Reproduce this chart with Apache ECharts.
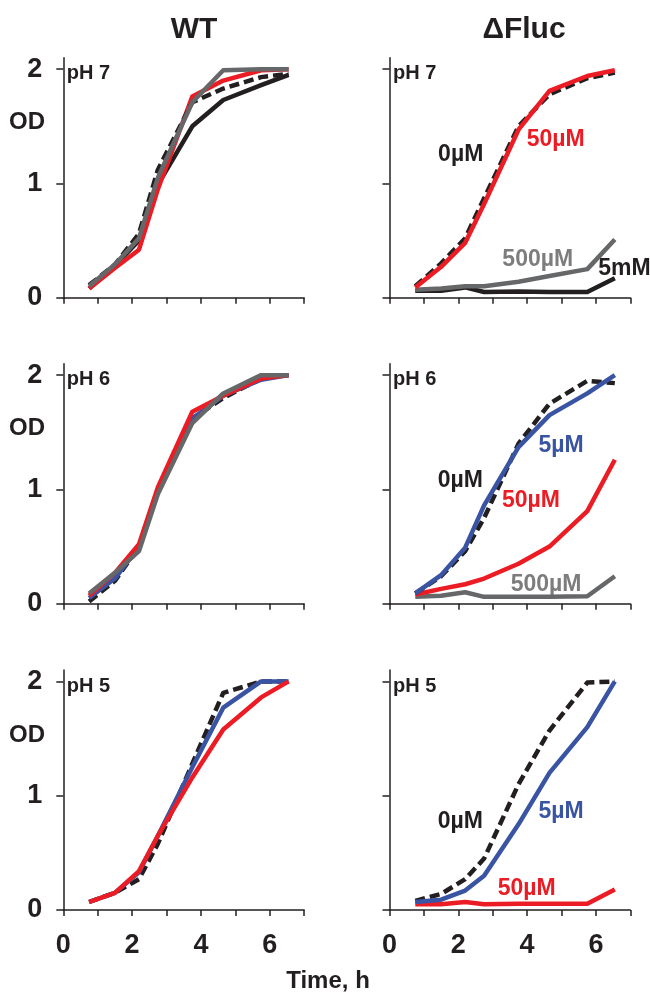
<!DOCTYPE html>
<html>
<head>
<meta charset="utf-8">
<script src="https://cdn.jsdelivr.net/npm/echarts@6/dist/echarts.min.js"></script>
<style>
  html, body { margin: 0; padding: 0; background: #fff; }
  #chart { width: 650px; height: 996px; }
</style>
</head>
<body>
<div id="chart"></div>
<script>
// sampling times (h)
const times = [0.75, 1.5, 2.2, 2.75, 3.75, 4.65, 5.75, 6.55];

// WT, pH 7
const wt7Zero = [0.11, 0.29, 0.56, 1.12, 1.71, 1.83, 1.93, 1.96];
const wt7Black = [0.08, 0.28, 0.5, 0.99, 1.5, 1.73, 1.86, 1.95];
const wt7Red = [0.08, 0.26, 0.42, 0.95, 1.76, 1.9, 1.99, 2.0];
const wt7Gray = [0.1, 0.29, 0.52, 1.05, 1.71, 1.99, 2.0, 2.0];
// dFluc, pH 7
const fl7Zero = [0.1, 0.3, 0.52, 0.87, 1.5, 1.78, 1.92, 1.97];
const fl7Fifty = [0.09, 0.27, 0.48, 0.82, 1.47, 1.81, 1.94, 1.99];
const fl7FiveHundred = [0.07, 0.08, 0.1, 0.1, 0.14, 0.19, 0.25, 0.51];
const fl7FivemM = [0.06, 0.06, 0.09, 0.05, 0.055, 0.05, 0.05, 0.17];
// WT, pH 6
const wt6Zero = [0.02, 0.2, 0.5, 1.0, 1.62, 1.8, 1.97, 2.0];
const wt6Five = [0.05, 0.22, 0.5, 0.98, 1.62, 1.82, 1.96, 2.0];
const wt6Fifty = [0.07, 0.27, 0.52, 1.02, 1.68, 1.82, 1.97, 2.0];
const wt6FiveHundred = [0.09, 0.27, 0.46, 0.96, 1.58, 1.84, 2.0, 2.0];
// dFluc, pH 6
const fl6Zero = [0.09, 0.24, 0.46, 0.75, 1.4, 1.75, 1.95, 1.93];
const fl6Five = [0.09, 0.25, 0.49, 0.86, 1.37, 1.65, 1.84, 2.0];
const fl6Fifty = [0.08, 0.13, 0.17, 0.22, 0.35, 0.5, 0.81, 1.26];
const fl6FiveHundred = [0.06, 0.07, 0.1, 0.06, 0.06, 0.06, 0.065, 0.24];
// WT, pH 5
const wt5Zero = [0.07, 0.15, 0.27, 0.58, 1.28, 1.9, 2.0, 2.0];
const wt5Five = [0.07, 0.15, 0.33, 0.65, 1.25, 1.77, 2.0, 2.0];
const wt5Fifty = [0.07, 0.15, 0.34, 0.65, 1.16, 1.58, 1.86, 2.0];
// dFluc, pH 5
const fl5Zero = [0.08, 0.14, 0.27, 0.45, 1.1, 1.57, 1.99, 2.0];
const fl5Five = [0.07, 0.09, 0.17, 0.3, 0.75, 1.2, 1.6, 2.0];
const fl5Fifty = [0.05, 0.05, 0.07, 0.05, 0.055, 0.055, 0.055, 0.18];

const yTicks = [0, 1, 2];
const xTicks = [0, 1, 2, 3, 4, 5, 6, 7];
const xTickLabels = [0, 2, 4, 6];
const panelLabels = ["pH 7", "pH 7", "pH 6", "pH 6", "pH 5", "pH 5"];

const colors = {
  black: "#231f20",
  red: "#ec1c24",
  blue: "#3a54a4",
  gray: "#666768",
  grayText: "#7d7d7d",
};
const font = "Liberation Sans, Arial, sans-serif";

// annotations inside the dFluc panels: [gridIndex, text, t, od, color, align]
const annotations = [
  [1, "0µM", 2.07, 1.25, colors.black, "center"],
  [1, "50µM", 4.83, 1.38, colors.red, "center"],
  [1, "500µM", 4.31, 0.33, colors.grayText, "center"],
  [1, "5mM", 6.07, 0.25, colors.black, "left"],
  [3, "5µM", 4.99, 1.38, colors.blue, "center"],
  [3, "0µM", 2.06, 1.08, colors.black, "center"],
  [3, "50µM", 4.11, 0.9, colors.red, "center"],
  [3, "500µM", 4.55, 0.17, colors.grayText, "center"],
  [5, "0µM", 2.06, 0.77, colors.black, "center"],
  [5, "5µM", 4.99, 0.86, colors.blue, "center"],
  [5, "50µM", 3.99, 0.19, colors.red, "center"],
];

const zip = (ys) => times.map((t, i) => [t, ys[i]]);

const line = (grid, ys, color, dashed) => ({
  type: "line",
  xAxisIndex: grid,
  yAxisIndex: grid,
  data: zip(ys),
  symbol: "none",
  silent: true,
  animation: false,
  lineStyle: {
    color,
    width: 4.5,
    type: dashed ? [10, 5] : "solid",
    join: "round",
  },
});

const lefts = [63.3, 389.5];
const tops = [57.7, 363.7, 670];
const gridW = 240.8;
const gridH = 240;

const grids = [];
const xAxes = [];
const yAxes = [];
for (let r = 0; r < 3; r++) {
  for (let c = 0; c < 2; c++) {
    const idx = r * 2 + c;
    grids.push({ left: lefts[c], top: tops[r], width: gridW, height: gridH });
    xAxes.push({
      type: "value",
      gridIndex: idx,
      min: 0,
      max: 7,
      interval: 1,
      splitLine: { show: false },
      axisLine: { onZero: false, lineStyle: { color: colors.black, width: 1.5 } },
      axisTick: { length: 6, customValues: xTicks, lineStyle: { color: colors.black, width: 1.5 } },
      axisLabel: {
        show: r === 2,
        customValues: xTickLabels,
        margin: 22,
        fontSize: 27,
        fontWeight: "bold",
        fontFamily: font,
        color: colors.black,
      },
    });
    yAxes.push({
      type: "value",
      gridIndex: idx,
      min: 0,
      max: 2.1,
      interval: 1,
      splitLine: { show: false },
      axisLine: { onZero: false, lineStyle: { color: colors.black, width: 1.5 } },
      axisTick: { length: 7, customValues: yTicks, lineStyle: { color: colors.black, width: 1.5 } },
      axisLabel: {
        show: c === 0,
        customValues: yTicks,
        margin: 21,
        fontSize: 27,
        fontWeight: "bold",
        fontFamily: font,
        color: colors.black,
      },
    });
  }
}

const series = [
  line(0, wt7Black, colors.black, false),
  line(0, wt7Red, colors.red, false),
  line(0, wt7Zero, colors.black, true),
  line(0, wt7Gray, colors.gray, false),

  line(1, fl7FivemM, colors.black, false),
  line(1, fl7FiveHundred, colors.gray, false),
  line(1, fl7Zero, colors.black, true),
  line(1, fl7Fifty, colors.red, false),

  line(2, wt6Zero, colors.black, true),
  line(2, wt6Five, colors.blue, false),
  line(2, wt6Fifty, colors.red, false),
  line(2, wt6FiveHundred, colors.gray, false),

  line(3, fl6FiveHundred, colors.gray, false),
  line(3, fl6Fifty, colors.red, false),
  line(3, fl6Zero, colors.black, true),
  line(3, fl6Five, colors.blue, false),

  line(4, wt5Zero, colors.black, true),
  line(4, wt5Five, colors.blue, false),
  line(4, wt5Fifty, colors.red, false),

  line(5, fl5Fifty, colors.red, false),
  line(5, fl5Zero, colors.black, true),
  line(5, fl5Five, colors.blue, false),
];

const chart = echarts.init(document.getElementById("chart"), null, { renderer: "canvas" });
chart.setOption({
  animation: false,
  backgroundColor: "#fff",
  grid: grids,
  xAxis: xAxes,
  yAxis: yAxes,
  series,
});

const textEl = (x, y, text, size, color, align) => ({
  type: "text",
  x,
  y,
  silent: true,
  style: {
    text,
    fill: color,
    font: `bold ${size}px ${font}`,
    align: align || "center",
    verticalAlign: "middle",
  },
});

const graphic = [
  textEl(194, 30, "WT", 30, colors.black),
  textEl(524, 30, "ΔFluc", 30, colors.black),
  textEl(328, 981, "Time, h", 24, colors.black),
];
for (let i = 0; i < 6; i++) {
  const p = chart.convertToPixel({ gridIndex: i }, [0.1, 1.96]);
  graphic.push(textEl(p[0], p[1], panelLabels[i], 20, colors.black, "left"));
}
for (let r = 0; r < 3; r++) {
  const p = chart.convertToPixel({ gridIndex: r * 2 }, [0, 1.53]);
  graphic.push(textEl(27, p[1], "OD", 24, colors.black));
}
annotations.forEach(([g, text, t, od, color, align]) => {
  const p = chart.convertToPixel({ gridIndex: g }, [t, od]);
  graphic.push(textEl(p[0], p[1], text, 23, color, align));
});
chart.setOption({ graphic });
</script>
</body>
</html>
